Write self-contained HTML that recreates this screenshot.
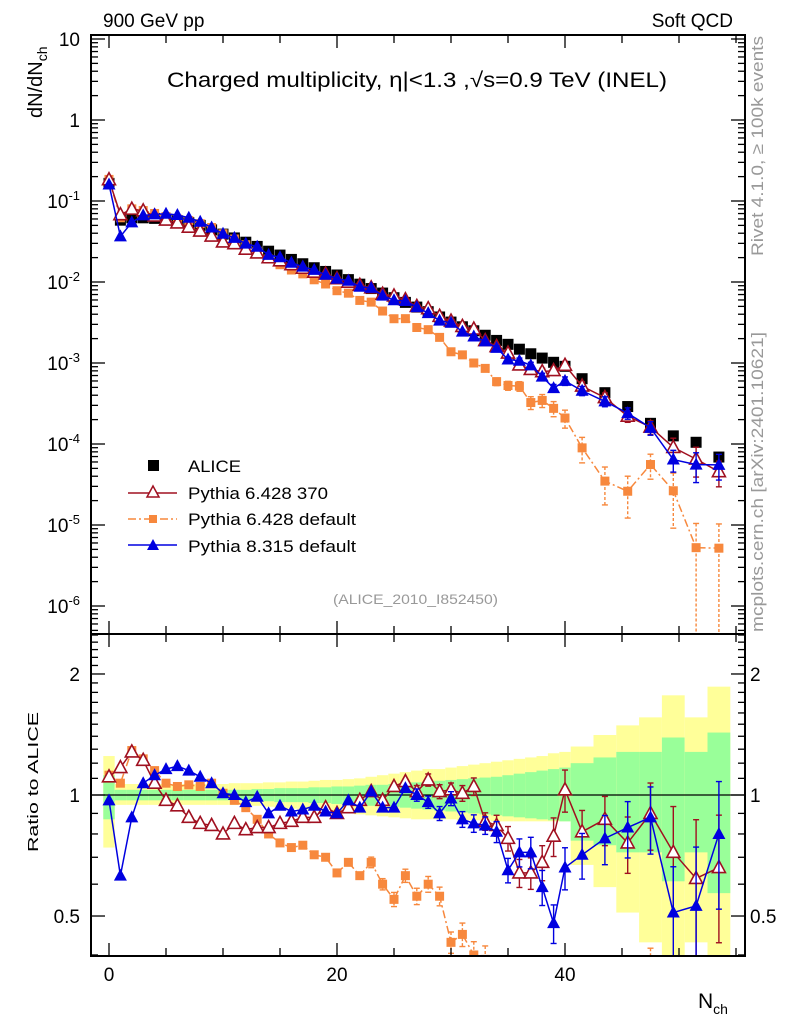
<!DOCTYPE html>
<html><head><meta charset="utf-8"><style>
html,body{margin:0;padding:0;background:#fff;width:786px;height:1024px;overflow:hidden;}
svg{display:block;font-family:"Liberation Sans",Arial,sans-serif;}
</style></head><body>
<svg id="chart" width="786" height="1024" viewBox="0 0 786 1024" xmlns="http://www.w3.org/2000/svg">
<defs>
<clipPath id="clipMain"><rect x="91" y="35" width="654" height="599"/></clipPath>
<clipPath id="clipRatio"><rect x="91" y="634" width="654" height="322"/></clipPath>
</defs>
<g id="bands" clip-path="url(#clipRatio)"></g>
<g id="ratioMarks" clip-path="url(#clipRatio)"></g>
<g id="mainMarks" clip-path="url(#clipMain)"></g>
<g id="axes"></g>
<text x="103" y="27" font-size="19">900 GeV pp</text>
<text x="733" y="27" font-size="19" text-anchor="end">Soft QCD</text>
<text x="167" y="87" font-size="21" textLength="500" lengthAdjust="spacingAndGlyphs">Charged multiplicity, η|&lt;1.3 ,√s=0.9 TeV (INEL)</text>
<text x="333" y="604" font-size="14" fill="#999" textLength="165" lengthAdjust="spacingAndGlyphs">(ALICE_2010_I852450)</text>
<text transform="translate(42,118) rotate(-90)" font-size="20">dN/dN<tspan font-size="14" dy="5">ch</tspan></text>
<text transform="translate(38,852) rotate(-90)" font-size="15" textLength="140" lengthAdjust="spacingAndGlyphs">Ratio to ALICE</text>
<text x="698" y="1008" font-size="21">N<tspan font-size="14" dy="6">ch</tspan></text>
<text transform="translate(763,256) rotate(-90)" font-size="17" fill="#999" textLength="220" lengthAdjust="spacingAndGlyphs">Rivet 4.1.0, ≥ 100k events</text>
<text transform="translate(763,632) rotate(-90)" font-size="17" fill="#999" textLength="300" lengthAdjust="spacingAndGlyphs">mcplots.cern.ch [arXiv:2401.10621]</text>
<g id="legend">
<rect x="148" y="460" width="11" height="11" fill="#000"/>
<text x="188" y="472" font-size="17" textLength="53" lengthAdjust="spacingAndGlyphs">ALICE</text>
<line x1="128" y1="493" x2="177" y2="493" stroke="#a01020" stroke-width="1.5"/>
<path d="M153,486 L159,497 L147,497 Z" fill="#fff" stroke="#a01020" stroke-width="1.5"/>
<text x="188" y="499" font-size="17" textLength="140" lengthAdjust="spacingAndGlyphs">Pythia 6.428 370</text>
<line x1="128" y1="519" x2="177" y2="519" stroke="#f7883d" stroke-width="1.5" stroke-dasharray="8,3,2,3"/>
<rect x="149" y="515" width="8" height="8" fill="#f7883d"/>
<text x="188" y="525" font-size="17" textLength="168" lengthAdjust="spacingAndGlyphs">Pythia 6.428 default</text>
<line x1="128" y1="545" x2="177" y2="545" stroke="#0000e0" stroke-width="1.5"/>
<path d="M153,539 L159,550 L147,550 Z" fill="#0000e0"/>
<text x="188" y="552" font-size="17" textLength="168" lengthAdjust="spacingAndGlyphs">Pythia 8.315 default</text>
</g>
</svg>
<script>
const nch = [0,1,2,3,4,5,6,7,8,9,10,11,12,13,14,15,16,17,18,19,20,21,22,23,24,25,26,27,28,29,30,31,32,33,34,35,36,37,38,39,40,41.5,43.5,45.5,47.5,49.5,51.5,53.5];
const binHalf = [0.5,0.5,0.5,0.5,0.5,0.5,0.5,0.5,0.5,0.5,0.5,0.5,0.5,0.5,0.5,0.5,0.5,0.5,0.5,0.5,0.5,0.5,0.5,0.5,0.5,0.5,0.5,0.5,0.5,0.5,0.5,0.5,0.5,0.5,0.5,0.5,0.5,0.5,0.5,0.5,0.5,1,1,1,1,1,1,1];
const alice = [0.165,0.058,0.062,0.062,0.061,0.060,0.057,0.054,0.050,0.044,0.039,0.035,0.031,0.0275,0.024,0.0215,0.019,0.0168,0.0150,0.0135,0.0122,0.0107,0.0094,0.0083,0.0073,0.0064,0.0056,0.0049,0.0043,0.0037,0.0032,0.0028,0.0025,0.0022,0.0019,0.0017,0.00148,0.00130,0.00115,0.00102,0.00091,0.00064,0.00043,0.00029,0.00018,0.000126,0.000105,0.000069];
const ratioP6_370 = [1.11,1.17,1.28,1.22,1.07,0.97,0.94,0.88,0.85,0.84,0.80,0.85,0.82,0.83,0.83,0.85,0.86,0.88,0.88,0.93,0.90,0.93,0.97,1.02,0.97,1.05,1.08,1.02,1.09,1.02,1.03,1.01,1.05,0.86,0.84,0.78,0.64,0.64,0.68,0.79,1.03,0.81,0.87,0.76,0.90,0.72,0.62,0.66];
const ratioP6_def = [1.12,1.07,1.29,1.23,1.15,1.07,1.05,1.06,1.05,1.07,1.01,0.97,0.93,0.87,0.80,0.76,0.74,0.75,0.71,0.70,0.64,0.68,0.63,0.68,0.60,0.55,0.63,0.56,0.60,0.56,0.43,0.45,0.40,0.39,0.31,0.31,0.35,0.25,0.30,0.27,0.23,0.14,0.081,0.09,0.31,0.21,0.05,0.075];
const ratioP8 = [0.97,0.63,0.88,1.07,1.12,1.16,1.18,1.15,1.11,1.07,1.01,1.00,0.96,0.99,0.90,0.94,0.91,0.92,0.94,0.91,0.90,0.97,0.93,1.02,0.93,0.93,1.04,1.00,0.96,0.90,0.98,0.87,0.85,0.84,0.81,0.65,0.72,0.72,0.59,0.48,0.66,0.71,0.78,0.83,0.88,0.51,0.53,0.80];
const mcRelErr = [0.01,0.01,0.01,0.01,0.01,0.01,0.01,0.01,0.01,0.01,0.01,0.01,0.01,0.01,0.01,0.01,0.01,0.01,0.01,0.01,0.015,0.02,0.02,0.025,0.025,0.03,0.03,0.035,0.035,0.04,0.04,0.045,0.05,0.05,0.06,0.07,0.08,0.09,0.10,0.11,0.12,0.13,0.14,0.16,0.19,0.3,0.4,0.35];
const yellowUp = [1.25,1.065,1.065,1.065,1.065,1.065,1.065,1.065,1.065,1.065,1.065,1.07,1.07,1.07,1.075,1.075,1.08,1.08,1.085,1.09,1.09,1.095,1.10,1.11,1.12,1.13,1.14,1.15,1.16,1.16,1.17,1.18,1.19,1.20,1.21,1.22,1.23,1.24,1.25,1.27,1.28,1.32,1.41,1.49,1.56,1.77,1.56,1.86];
const yellowDn = [0.74,0.945,0.945,0.945,0.945,0.945,0.945,0.945,0.945,0.945,0.945,0.945,0.945,0.94,0.935,0.93,0.925,0.92,0.915,0.91,0.905,0.90,0.895,0.89,0.885,0.88,0.875,0.87,0.87,0.87,0.87,0.865,0.865,0.865,0.86,0.86,0.86,0.86,0.86,0.86,0.86,0.67,0.59,0.51,0.43,0.30,0.43,0.30];
const greenUp = [1.12,1.03,1.03,1.03,1.03,1.03,1.03,1.03,1.03,1.03,1.03,1.03,1.03,1.035,1.035,1.04,1.04,1.04,1.045,1.045,1.05,1.05,1.055,1.06,1.06,1.065,1.07,1.075,1.08,1.085,1.09,1.095,1.10,1.105,1.11,1.12,1.13,1.14,1.15,1.16,1.17,1.20,1.24,1.28,1.28,1.39,1.28,1.43];
const greenDn = [0.87,0.97,0.97,0.97,0.97,0.97,0.97,0.97,0.97,0.97,0.97,0.97,0.97,0.965,0.965,0.96,0.96,0.96,0.955,0.955,0.95,0.95,0.945,0.94,0.94,0.935,0.93,0.925,0.92,0.915,0.91,0.905,0.90,0.895,0.89,0.885,0.88,0.875,0.87,0.865,0.86,0.77,0.75,0.72,0.72,0.61,0.72,0.57];
const xTicksLabeled = [0,20,40];
const mainDecades = [10,1,0.1,0.01,0.001,0.0001,0.00001,0.000001];
const mainDecadeLabels = ["10","1","10|-1","10|-2","10|-3","10|-4","10|-5","10|-6"];
const ratioLabels = [0.5,1,2];

const NS="http://www.w3.org/2000/svg";
const X0=91,X1=745,YT=35,YM=634,YB=956;
function clamp(v,a,b){return Math.max(a,Math.min(b,v));}
function xs(n){return 109+n*11.4;}
function ym(v){return clamp(39+(1-Math.log10(Math.max(v,1e-12)))*81,25,650);}
function yr(r){return clamp(795-Math.log10(Math.max(r,1e-12))*402,620,975);}
function mk(tag,attrs,parent){const e=document.createElementNS(NS,tag);for(const k in attrs)e.setAttribute(k,attrs[k]);parent.appendChild(e);return e;}

const bands=document.getElementById('bands');
for(let i=0;i<nch.length;i++){
  const xa=xs(nch[i]-binHalf[i]), w=xs(nch[i]+binHalf[i])-xa;
  const y1=mk('rect',{x:xa,y:yr(yellowUp[i]),width:w,height:yr(yellowDn[i])-yr(yellowUp[i]),fill:'#ffff99'},bands);
  
  
  const g1=mk('rect',{x:xa,y:yr(greenUp[i]),width:w,height:yr(greenDn[i])-yr(greenUp[i]),fill:'#99ff99'},bands);
  
  
}
const refl=mk('line',{x1:X0,x2:X1,y1:yr(1),y2:yr(1),stroke:'#000','stroke-width':1.3},bands);



const series=[
 {name:'p6-default',r:ratioP6_def,color:'#f7883d',dash:'8,3,2,3',marker:'sq',errScale:true},
 {name:'p6-370',r:ratioP6_370,color:'#a01020',dash:null,marker:'open'},
 {name:'p8-default',r:ratioP8,color:'#0000e0',dash:null,marker:'tri'}
];
function marker(parent,type,x,y,color,nm){
  let e;
  if(type==='sq') e=mk('rect',{x:x-4.5,y:y-4.5,width:9,height:9,fill:color},parent);
  else if(type==='open') e=mk('path',{d:`M${x},${y-7} L${x+6.5},${y+5} L${x-6.5},${y+5} Z`,fill:'#fff',stroke:color,'stroke-width':1.6},parent);
  else e=mk('path',{d:`M${x},${y-7} L${x+6.5},${y+5} L${x-6.5},${y+5} Z`,fill:color},parent);
  
  
}
function errbar(parent,x,ya,yb,color,dash){
  const a={x1:x,x2:x,y1:ya,y2:yb,stroke:color,'stroke-width':1.4};
  if(dash)a['stroke-dasharray']='3,2';
  mk('line',a,parent);
  mk('line',{x1:x-3,x2:x+3,y1:ya,y2:ya,stroke:color,'stroke-width':1.4},parent);
  mk('line',{x1:x-3,x2:x+3,y1:yb,y2:yb,stroke:color,'stroke-width':1.4},parent);
}
const main=document.getElementById('mainMarks'), rat=document.getElementById('ratioMarks');
for(let i=0;i<nch.length;i++){
  const s=mk('rect',{x:xs(nch[i])-5.5,y:ym(alice[i])-5.5,width:11,height:11,fill:'#000'},main);
  
  
}
for(const s of series){
  const gm=mk('g',{},main), gr=mk('g',{},rat);
  
  
  
  
  const pm=[],pr=[];
  for(let i=0;i<nch.length;i++){pm.push(xs(nch[i])+','+ym(alice[i]*s.r[i]));pr.push(xs(nch[i])+','+yr(s.r[i]));}
  const la={fill:'none',stroke:s.color,'stroke-width':1.5};
  if(s.dash)la['stroke-dasharray']=s.dash;
  mk('polyline',Object.assign({points:pm.join(' ')},la),gm);
  mk('polyline',Object.assign({points:pr.join(' ')},la),gr);
  for(let i=0;i<nch.length;i++){
    let e=mcRelErr[i]; if(s.errScale) e=Math.min(0.99,e/Math.sqrt(s.r[i]));
    const v=alice[i]*s.r[i], x=xs(nch[i]);
    if(e>0.03){
      errbar(gm,x,ym(v*(1+e)),ym(v*(1-e)),s.color,!!s.dash);
      errbar(gr,x,yr(s.r[i]*(1+e)),yr(s.r[i]*(1-e)),s.color,!!s.dash);
    }
    marker(gm,s.marker,x,ym(v),s.color,s.name+'-point');
    marker(gr,s.marker,x,yr(s.r[i]),s.color,s.name+'-ratio-point');
  }
}
const ax=document.getElementById('axes');
const L=(x1,y1,x2,y2,w)=>mk('line',{x1,y1,x2,y2,stroke:'#000','stroke-width':w||1.3},ax);
mk('rect',{x:X0,y:YT,width:X1-X0,height:YB-YT,fill:'none',stroke:'#000','stroke-width':2},ax);
L(X0,YM,X1,YM,2);
for(let n=0;n<=55;n+=5){
  const x=xs(n), len=(n%20===0)?13:8;
  for(const [yy,d] of [[YT,1],[YM,-1],[YM,1],[YB,-1]]) L(x,yy,x,yy+d*len);
}
for(const n of xTicksLabeled){
  const t=mk('text',{x:xs(n),y:981,'font-size':19,'text-anchor':'middle'},ax);t.textContent=n;
  
  
}
for(let d=0;d<mainDecades.length;d++){
  const v=mainDecades[d];
  for(let m=1;m<=9;m++){
    const yv=39+(1-Math.log10(mainDecades[d]/10*m))*81;
    if(m===1){L(X0,ym(v),X0+14,ym(v));L(X1,ym(v),X1-14,ym(v));}
    else if(yv>YT&&yv<YM){L(X0,yv,X0+7,yv);L(X1,yv,X1-7,yv);}
  }
  const parts=mainDecadeLabels[d].split('|');
  const t=mk('text',{x:80,y:ym(v)+7,'font-size':19,'text-anchor':'end'},ax);
  
  
  if(parts.length===1)t.textContent=parts[0];
  else{t.textContent=parts[0];const sp=mk('tspan',{dy:-8,'font-size':13},t);sp.textContent=parts[1];}
}
for(let r=0.4;r<=2.55;r+=0.1){
  const rr=Math.round(r*10)/10, y=795-Math.log10(rr)*402;
  if(y<YM||y>YB)continue;
  const big=(rr===0.5||rr===1||rr===2), len=big?14:7;
  L(X0,y,X0+len,y);L(X1,y,X1-len,y);
}
for(const r of ratioLabels){
  const t1=mk('text',{x:80,y:yr(r)+7,'font-size':19,'text-anchor':'end'},ax);t1.textContent=r;
  
  
  const t2=mk('text',{x:750,y:yr(r)+7,'font-size':19},ax);t2.textContent=r;
  
  
}
</script>
</body></html>
